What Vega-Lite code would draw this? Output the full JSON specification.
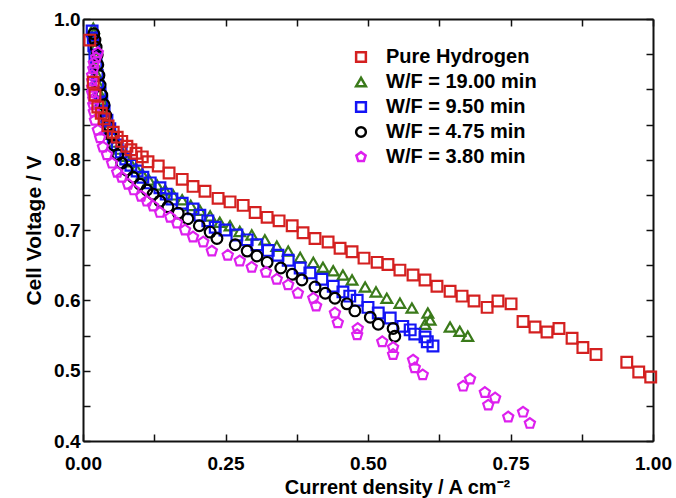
{
  "$schema": "https://vega.github.io/schema/vega-lite/v6.json",
  "width": 570,
  "height": 422,
  "autosize": {"type": "none"},
  "padding": {"left": 83, "top": 19, "right": 23, "bottom": 57},
  "background": "white",
  "config": {
    "view": {"stroke": null},
    "axis": {
      "grid": false,
      "domainColor": "#111111",
      "domainWidth": 2,
      "tickColor": "#111111",
      "tickWidth": 1.5,
      "tickSize": -7,
      "labelFont": "Liberation Sans",
      "labelFontWeight": "bold",
      "labelFontSize": 19,
      "labelColor": "#000000",
      "titleFont": "Liberation Sans",
      "titleFontWeight": "bold",
      "titleFontSize": 20,
      "titleColor": "#000000"
    }
  },
  "datasets": {
    "pts": [
      {"s": "W/F = 19.00 min", "j": 0.018, "v": 0.987},
      {"s": "W/F = 19.00 min", "j": 0.019, "v": 0.980},
      {"s": "W/F = 19.00 min", "j": 0.021, "v": 0.970},
      {"s": "W/F = 19.00 min", "j": 0.021, "v": 0.959},
      {"s": "W/F = 19.00 min", "j": 0.023, "v": 0.946},
      {"s": "W/F = 19.00 min", "j": 0.023, "v": 0.933},
      {"s": "W/F = 19.00 min", "j": 0.025, "v": 0.920},
      {"s": "W/F = 19.00 min", "j": 0.026, "v": 0.908},
      {"s": "W/F = 19.00 min", "j": 0.028, "v": 0.896},
      {"s": "W/F = 19.00 min", "j": 0.032, "v": 0.885},
      {"s": "W/F = 19.00 min", "j": 0.035, "v": 0.873},
      {"s": "W/F = 19.00 min", "j": 0.040, "v": 0.861},
      {"s": "W/F = 19.00 min", "j": 0.046, "v": 0.848},
      {"s": "W/F = 19.00 min", "j": 0.051, "v": 0.836},
      {"s": "W/F = 19.00 min", "j": 0.058, "v": 0.825},
      {"s": "W/F = 19.00 min", "j": 0.065, "v": 0.815},
      {"s": "W/F = 19.00 min", "j": 0.074, "v": 0.805},
      {"s": "W/F = 19.00 min", "j": 0.082, "v": 0.797},
      {"s": "W/F = 19.00 min", "j": 0.093, "v": 0.788},
      {"s": "W/F = 19.00 min", "j": 0.104, "v": 0.780},
      {"s": "W/F = 19.00 min", "j": 0.116, "v": 0.771},
      {"s": "W/F = 19.00 min", "j": 0.130, "v": 0.764},
      {"s": "W/F = 19.00 min", "j": 0.144, "v": 0.757},
      {"s": "W/F = 19.00 min", "j": 0.158, "v": 0.750},
      {"s": "W/F = 19.00 min", "j": 0.174, "v": 0.743},
      {"s": "W/F = 19.00 min", "j": 0.189, "v": 0.735},
      {"s": "W/F = 19.00 min", "j": 0.205, "v": 0.728},
      {"s": "W/F = 19.00 min", "j": 0.223, "v": 0.720},
      {"s": "W/F = 19.00 min", "j": 0.240, "v": 0.711},
      {"s": "W/F = 19.00 min", "j": 0.258, "v": 0.706},
      {"s": "W/F = 19.00 min", "j": 0.275, "v": 0.698},
      {"s": "W/F = 19.00 min", "j": 0.296, "v": 0.693},
      {"s": "W/F = 19.00 min", "j": 0.319, "v": 0.686},
      {"s": "W/F = 19.00 min", "j": 0.340, "v": 0.677},
      {"s": "W/F = 19.00 min", "j": 0.360, "v": 0.670},
      {"s": "W/F = 19.00 min", "j": 0.381, "v": 0.661},
      {"s": "W/F = 19.00 min", "j": 0.404, "v": 0.654},
      {"s": "W/F = 19.00 min", "j": 0.421, "v": 0.647},
      {"s": "W/F = 19.00 min", "j": 0.439, "v": 0.642},
      {"s": "W/F = 19.00 min", "j": 0.456, "v": 0.636},
      {"s": "W/F = 19.00 min", "j": 0.472, "v": 0.629},
      {"s": "W/F = 19.00 min", "j": 0.495, "v": 0.619},
      {"s": "W/F = 19.00 min", "j": 0.514, "v": 0.612},
      {"s": "W/F = 19.00 min", "j": 0.533, "v": 0.603},
      {"s": "W/F = 19.00 min", "j": 0.556, "v": 0.596},
      {"s": "W/F = 19.00 min", "j": 0.577, "v": 0.589},
      {"s": "W/F = 19.00 min", "j": 0.605, "v": 0.582},
      {"s": "W/F = 19.00 min", "j": 0.609, "v": 0.572},
      {"s": "W/F = 19.00 min", "j": 0.600, "v": 0.566},
      {"s": "W/F = 19.00 min", "j": 0.644, "v": 0.562},
      {"s": "W/F = 19.00 min", "j": 0.661, "v": 0.556},
      {"s": "W/F = 19.00 min", "j": 0.675, "v": 0.549},

      {"s": "W/F = 9.50 min", "j": 0.016, "v": 0.983},
      {"s": "W/F = 9.50 min", "j": 0.018, "v": 0.973},
      {"s": "W/F = 9.50 min", "j": 0.019, "v": 0.962},
      {"s": "W/F = 9.50 min", "j": 0.021, "v": 0.949},
      {"s": "W/F = 9.50 min", "j": 0.023, "v": 0.935},
      {"s": "W/F = 9.50 min", "j": 0.025, "v": 0.920},
      {"s": "W/F = 9.50 min", "j": 0.026, "v": 0.908},
      {"s": "W/F = 9.50 min", "j": 0.030, "v": 0.895},
      {"s": "W/F = 9.50 min", "j": 0.033, "v": 0.882},
      {"s": "W/F = 9.50 min", "j": 0.037, "v": 0.869},
      {"s": "W/F = 9.50 min", "j": 0.042, "v": 0.856},
      {"s": "W/F = 9.50 min", "j": 0.047, "v": 0.844},
      {"s": "W/F = 9.50 min", "j": 0.053, "v": 0.832},
      {"s": "W/F = 9.50 min", "j": 0.060, "v": 0.821},
      {"s": "W/F = 9.50 min", "j": 0.067, "v": 0.811},
      {"s": "W/F = 9.50 min", "j": 0.075, "v": 0.801},
      {"s": "W/F = 9.50 min", "j": 0.084, "v": 0.792},
      {"s": "W/F = 9.50 min", "j": 0.095, "v": 0.784},
      {"s": "W/F = 9.50 min", "j": 0.105, "v": 0.775},
      {"s": "W/F = 9.50 min", "j": 0.118, "v": 0.767},
      {"s": "W/F = 9.50 min", "j": 0.135, "v": 0.760},
      {"s": "W/F = 9.50 min", "j": 0.146, "v": 0.751},
      {"s": "W/F = 9.50 min", "j": 0.156, "v": 0.744},
      {"s": "W/F = 9.50 min", "j": 0.174, "v": 0.738},
      {"s": "W/F = 9.50 min", "j": 0.193, "v": 0.730},
      {"s": "W/F = 9.50 min", "j": 0.205, "v": 0.721},
      {"s": "W/F = 9.50 min", "j": 0.219, "v": 0.713},
      {"s": "W/F = 9.50 min", "j": 0.232, "v": 0.704},
      {"s": "W/F = 9.50 min", "j": 0.249, "v": 0.700},
      {"s": "W/F = 9.50 min", "j": 0.270, "v": 0.693},
      {"s": "W/F = 9.50 min", "j": 0.288, "v": 0.686},
      {"s": "W/F = 9.50 min", "j": 0.305, "v": 0.679},
      {"s": "W/F = 9.50 min", "j": 0.325, "v": 0.671},
      {"s": "W/F = 9.50 min", "j": 0.342, "v": 0.664},
      {"s": "W/F = 9.50 min", "j": 0.360, "v": 0.657},
      {"s": "W/F = 9.50 min", "j": 0.381, "v": 0.646},
      {"s": "W/F = 9.50 min", "j": 0.398, "v": 0.639},
      {"s": "W/F = 9.50 min", "j": 0.419, "v": 0.630},
      {"s": "W/F = 9.50 min", "j": 0.439, "v": 0.620},
      {"s": "W/F = 9.50 min", "j": 0.456, "v": 0.612},
      {"s": "W/F = 9.50 min", "j": 0.468, "v": 0.606},
      {"s": "W/F = 9.50 min", "j": 0.481, "v": 0.600},
      {"s": "W/F = 9.50 min", "j": 0.500, "v": 0.590},
      {"s": "W/F = 9.50 min", "j": 0.518, "v": 0.582},
      {"s": "W/F = 9.50 min", "j": 0.539, "v": 0.575},
      {"s": "W/F = 9.50 min", "j": 0.561, "v": 0.563},
      {"s": "W/F = 9.50 min", "j": 0.574, "v": 0.558},
      {"s": "W/F = 9.50 min", "j": 0.582, "v": 0.552},
      {"s": "W/F = 9.50 min", "j": 0.600, "v": 0.548},
      {"s": "W/F = 9.50 min", "j": 0.604, "v": 0.541},
      {"s": "W/F = 9.50 min", "j": 0.614, "v": 0.535},

      {"s": "W/F = 4.75 min", "j": 0.019, "v": 0.979},
      {"s": "W/F = 4.75 min", "j": 0.021, "v": 0.970},
      {"s": "W/F = 4.75 min", "j": 0.023, "v": 0.960},
      {"s": "W/F = 4.75 min", "j": 0.025, "v": 0.949},
      {"s": "W/F = 4.75 min", "j": 0.026, "v": 0.935},
      {"s": "W/F = 4.75 min", "j": 0.028, "v": 0.920},
      {"s": "W/F = 4.75 min", "j": 0.030, "v": 0.906},
      {"s": "W/F = 4.75 min", "j": 0.033, "v": 0.892},
      {"s": "W/F = 4.75 min", "j": 0.037, "v": 0.878},
      {"s": "W/F = 4.75 min", "j": 0.040, "v": 0.863},
      {"s": "W/F = 4.75 min", "j": 0.044, "v": 0.849},
      {"s": "W/F = 4.75 min", "j": 0.049, "v": 0.835},
      {"s": "W/F = 4.75 min", "j": 0.054, "v": 0.821},
      {"s": "W/F = 4.75 min", "j": 0.061, "v": 0.807},
      {"s": "W/F = 4.75 min", "j": 0.068, "v": 0.795},
      {"s": "W/F = 4.75 min", "j": 0.077, "v": 0.785},
      {"s": "W/F = 4.75 min", "j": 0.088, "v": 0.775},
      {"s": "W/F = 4.75 min", "j": 0.100, "v": 0.765},
      {"s": "W/F = 4.75 min", "j": 0.112, "v": 0.757},
      {"s": "W/F = 4.75 min", "j": 0.123, "v": 0.751},
      {"s": "W/F = 4.75 min", "j": 0.135, "v": 0.741},
      {"s": "W/F = 4.75 min", "j": 0.149, "v": 0.733},
      {"s": "W/F = 4.75 min", "j": 0.167, "v": 0.724},
      {"s": "W/F = 4.75 min", "j": 0.184, "v": 0.716},
      {"s": "W/F = 4.75 min", "j": 0.204, "v": 0.706},
      {"s": "W/F = 4.75 min", "j": 0.223, "v": 0.697},
      {"s": "W/F = 4.75 min", "j": 0.235, "v": 0.688},
      {"s": "W/F = 4.75 min", "j": 0.267, "v": 0.679},
      {"s": "W/F = 4.75 min", "j": 0.288, "v": 0.670},
      {"s": "W/F = 4.75 min", "j": 0.305, "v": 0.663},
      {"s": "W/F = 4.75 min", "j": 0.323, "v": 0.654},
      {"s": "W/F = 4.75 min", "j": 0.347, "v": 0.646},
      {"s": "W/F = 4.75 min", "j": 0.367, "v": 0.637},
      {"s": "W/F = 4.75 min", "j": 0.384, "v": 0.629},
      {"s": "W/F = 4.75 min", "j": 0.407, "v": 0.619},
      {"s": "W/F = 4.75 min", "j": 0.425, "v": 0.610},
      {"s": "W/F = 4.75 min", "j": 0.442, "v": 0.603},
      {"s": "W/F = 4.75 min", "j": 0.463, "v": 0.595},
      {"s": "W/F = 4.75 min", "j": 0.477, "v": 0.585},
      {"s": "W/F = 4.75 min", "j": 0.504, "v": 0.576},
      {"s": "W/F = 4.75 min", "j": 0.518, "v": 0.566},
      {"s": "W/F = 4.75 min", "j": 0.544, "v": 0.560},
      {"s": "W/F = 4.75 min", "j": 0.547, "v": 0.549},

      {"s": "W/F = 3.80 min", "j": 0.026, "v": 0.952},
      {"s": "W/F = 3.80 min", "j": 0.023, "v": 0.945},
      {"s": "W/F = 3.80 min", "j": 0.019, "v": 0.937},
      {"s": "W/F = 3.80 min", "j": 0.018, "v": 0.929},
      {"s": "W/F = 3.80 min", "j": 0.016, "v": 0.920},
      {"s": "W/F = 3.80 min", "j": 0.016, "v": 0.912},
      {"s": "W/F = 3.80 min", "j": 0.016, "v": 0.903},
      {"s": "W/F = 3.80 min", "j": 0.016, "v": 0.895},
      {"s": "W/F = 3.80 min", "j": 0.018, "v": 0.886},
      {"s": "W/F = 3.80 min", "j": 0.018, "v": 0.878},
      {"s": "W/F = 3.80 min", "j": 0.019, "v": 0.868},
      {"s": "W/F = 3.80 min", "j": 0.021, "v": 0.856},
      {"s": "W/F = 3.80 min", "j": 0.026, "v": 0.842},
      {"s": "W/F = 3.80 min", "j": 0.030, "v": 0.831},
      {"s": "W/F = 3.80 min", "j": 0.035, "v": 0.818},
      {"s": "W/F = 3.80 min", "j": 0.042, "v": 0.807},
      {"s": "W/F = 3.80 min", "j": 0.051, "v": 0.795},
      {"s": "W/F = 3.80 min", "j": 0.060, "v": 0.782},
      {"s": "W/F = 3.80 min", "j": 0.068, "v": 0.775},
      {"s": "W/F = 3.80 min", "j": 0.079, "v": 0.765},
      {"s": "W/F = 3.80 min", "j": 0.089, "v": 0.757},
      {"s": "W/F = 3.80 min", "j": 0.102, "v": 0.748},
      {"s": "W/F = 3.80 min", "j": 0.112, "v": 0.741},
      {"s": "W/F = 3.80 min", "j": 0.123, "v": 0.734},
      {"s": "W/F = 3.80 min", "j": 0.135, "v": 0.725},
      {"s": "W/F = 3.80 min", "j": 0.153, "v": 0.718},
      {"s": "W/F = 3.80 min", "j": 0.165, "v": 0.710},
      {"s": "W/F = 3.80 min", "j": 0.179, "v": 0.700},
      {"s": "W/F = 3.80 min", "j": 0.193, "v": 0.690},
      {"s": "W/F = 3.80 min", "j": 0.211, "v": 0.683},
      {"s": "W/F = 3.80 min", "j": 0.226, "v": 0.670},
      {"s": "W/F = 3.80 min", "j": 0.254, "v": 0.664},
      {"s": "W/F = 3.80 min", "j": 0.275, "v": 0.656},
      {"s": "W/F = 3.80 min", "j": 0.296, "v": 0.647},
      {"s": "W/F = 3.80 min", "j": 0.321, "v": 0.640},
      {"s": "W/F = 3.80 min", "j": 0.340, "v": 0.630},
      {"s": "W/F = 3.80 min", "j": 0.360, "v": 0.622},
      {"s": "W/F = 3.80 min", "j": 0.377, "v": 0.610},
      {"s": "W/F = 3.80 min", "j": 0.404, "v": 0.603},
      {"s": "W/F = 3.80 min", "j": 0.409, "v": 0.592},
      {"s": "W/F = 3.80 min", "j": 0.442, "v": 0.582},
      {"s": "W/F = 3.80 min", "j": 0.447, "v": 0.568},
      {"s": "W/F = 3.80 min", "j": 0.482, "v": 0.560},
      {"s": "W/F = 3.80 min", "j": 0.481, "v": 0.551},
      {"s": "W/F = 3.80 min", "j": 0.525, "v": 0.541},
      {"s": "W/F = 3.80 min", "j": 0.544, "v": 0.533},
      {"s": "W/F = 3.80 min", "j": 0.544, "v": 0.523},
      {"s": "W/F = 3.80 min", "j": 0.579, "v": 0.515},
      {"s": "W/F = 3.80 min", "j": 0.582, "v": 0.504},
      {"s": "W/F = 3.80 min", "j": 0.596, "v": 0.494},
      {"s": "W/F = 3.80 min", "j": 0.667, "v": 0.478},
      {"s": "W/F = 3.80 min", "j": 0.679, "v": 0.488},
      {"s": "W/F = 3.80 min", "j": 0.705, "v": 0.469},
      {"s": "W/F = 3.80 min", "j": 0.723, "v": 0.461},
      {"s": "W/F = 3.80 min", "j": 0.711, "v": 0.451},
      {"s": "W/F = 3.80 min", "j": 0.746, "v": 0.434},
      {"s": "W/F = 3.80 min", "j": 0.772, "v": 0.441},
      {"s": "W/F = 3.80 min", "j": 0.784, "v": 0.425},

      {"s": "\u00a0Pure Hydrogen", "j": 0.012, "v": 0.970},
      {"s": "\u00a0Pure Hydrogen", "j": 0.018, "v": 0.910},
      {"s": "\u00a0Pure Hydrogen", "j": 0.021, "v": 0.892},
      {"s": "\u00a0Pure Hydrogen", "j": 0.026, "v": 0.875},
      {"s": "\u00a0Pure Hydrogen", "j": 0.032, "v": 0.866},
      {"s": "\u00a0Pure Hydrogen", "j": 0.037, "v": 0.858},
      {"s": "\u00a0Pure Hydrogen", "j": 0.044, "v": 0.848},
      {"s": "\u00a0Pure Hydrogen", "j": 0.053, "v": 0.839},
      {"s": "\u00a0Pure Hydrogen", "j": 0.060, "v": 0.832},
      {"s": "\u00a0Pure Hydrogen", "j": 0.068, "v": 0.826},
      {"s": "\u00a0Pure Hydrogen", "j": 0.077, "v": 0.819},
      {"s": "\u00a0Pure Hydrogen", "j": 0.084, "v": 0.814},
      {"s": "\u00a0Pure Hydrogen", "j": 0.093, "v": 0.809},
      {"s": "\u00a0Pure Hydrogen", "j": 0.104, "v": 0.804},
      {"s": "\u00a0Pure Hydrogen", "j": 0.114, "v": 0.797},
      {"s": "\u00a0Pure Hydrogen", "j": 0.132, "v": 0.791},
      {"s": "\u00a0Pure Hydrogen", "j": 0.151, "v": 0.781},
      {"s": "\u00a0Pure Hydrogen", "j": 0.174, "v": 0.772},
      {"s": "\u00a0Pure Hydrogen", "j": 0.193, "v": 0.762},
      {"s": "\u00a0Pure Hydrogen", "j": 0.214, "v": 0.755},
      {"s": "\u00a0Pure Hydrogen", "j": 0.237, "v": 0.745},
      {"s": "\u00a0Pure Hydrogen", "j": 0.258, "v": 0.740},
      {"s": "\u00a0Pure Hydrogen", "j": 0.281, "v": 0.735},
      {"s": "\u00a0Pure Hydrogen", "j": 0.302, "v": 0.725},
      {"s": "\u00a0Pure Hydrogen", "j": 0.323, "v": 0.718},
      {"s": "\u00a0Pure Hydrogen", "j": 0.344, "v": 0.713},
      {"s": "\u00a0Pure Hydrogen", "j": 0.367, "v": 0.706},
      {"s": "\u00a0Pure Hydrogen", "j": 0.386, "v": 0.696},
      {"s": "\u00a0Pure Hydrogen", "j": 0.407, "v": 0.688},
      {"s": "\u00a0Pure Hydrogen", "j": 0.430, "v": 0.683},
      {"s": "\u00a0Pure Hydrogen", "j": 0.451, "v": 0.674},
      {"s": "\u00a0Pure Hydrogen", "j": 0.472, "v": 0.669},
      {"s": "\u00a0Pure Hydrogen", "j": 0.493, "v": 0.660},
      {"s": "\u00a0Pure Hydrogen", "j": 0.516, "v": 0.654},
      {"s": "\u00a0Pure Hydrogen", "j": 0.535, "v": 0.651},
      {"s": "\u00a0Pure Hydrogen", "j": 0.556, "v": 0.643},
      {"s": "\u00a0Pure Hydrogen", "j": 0.579, "v": 0.636},
      {"s": "\u00a0Pure Hydrogen", "j": 0.600, "v": 0.629},
      {"s": "\u00a0Pure Hydrogen", "j": 0.621, "v": 0.620},
      {"s": "\u00a0Pure Hydrogen", "j": 0.644, "v": 0.613},
      {"s": "\u00a0Pure Hydrogen", "j": 0.665, "v": 0.606},
      {"s": "\u00a0Pure Hydrogen", "j": 0.686, "v": 0.599},
      {"s": "\u00a0Pure Hydrogen", "j": 0.709, "v": 0.590},
      {"s": "\u00a0Pure Hydrogen", "j": 0.728, "v": 0.599},
      {"s": "\u00a0Pure Hydrogen", "j": 0.751, "v": 0.595},
      {"s": "\u00a0Pure Hydrogen", "j": 0.772, "v": 0.570},
      {"s": "\u00a0Pure Hydrogen", "j": 0.793, "v": 0.562},
      {"s": "\u00a0Pure Hydrogen", "j": 0.814, "v": 0.555},
      {"s": "\u00a0Pure Hydrogen", "j": 0.835, "v": 0.560},
      {"s": "\u00a0Pure Hydrogen", "j": 0.858, "v": 0.546},
      {"s": "\u00a0Pure Hydrogen", "j": 0.877, "v": 0.533},
      {"s": "\u00a0Pure Hydrogen", "j": 0.900, "v": 0.523},
      {"s": "\u00a0Pure Hydrogen", "j": 0.954, "v": 0.512},
      {"s": "\u00a0Pure Hydrogen", "j": 0.975, "v": 0.498},
      {"s": "\u00a0Pure Hydrogen", "j": 0.996, "v": 0.491}
    ]
  },
  "data": {"name": "pts"},
  "layer": [
    {
      "mark": {"type": "point", "filled": false, "strokeWidth": 2.2, "size": 115, "opacity": 1},
      "encoding": {
        "x": {
          "field": "j", "type": "quantitative",
          "scale": {"domain": [0, 1], "nice": false, "zero": false},
          "axis": {
            "orient": "bottom",
            "values": [0, 0.125, 0.25, 0.375, 0.5, 0.625, 0.75, 0.875, 1],
            "labelExpr": "abs(datum.value*4 - round(datum.value*4)) < 0.001 ? format(datum.value, '.2f') : ''",
            "labelPadding": 20,
            "labelFlush": false,
            "title": "Current density / A cm⁻²",
            "titlePadding": 4,
            "titleX": 314
          }
        },
        "y": {
          "field": "v", "type": "quantitative",
          "scale": {"domain": [0.4, 1.0], "nice": false, "zero": false},
          "axis": {
            "orient": "left",
            "values": [0.4, 0.45, 0.5, 0.55, 0.6, 0.65, 0.7, 0.75, 0.8, 0.85, 0.9, 0.95, 1.0],
            "labelExpr": "abs(datum.value*10 - round(datum.value*10)) < 0.001 ? format(datum.value, '.1f') : ''",
            "labelPadding": 10,
            "labelFlush": false,
            "title": "Cell Voltage / V",
            "titleFontSize": 21,
            "titlePadding": 9
          }
        },
        "color": {
          "field": "s", "type": "nominal",
          "scale": {
            "domain": ["\u00a0Pure Hydrogen", "W/F = 19.00 min", "W/F = 9.50 min", "W/F = 4.75 min", "W/F = 3.80 min"],
            "range": ["#d42020", "#3a7a1a", "#1414f5", "#000000", "#dd20ee"]
          },
          "legend": {
            "title": null, "orient": "none", "legendX": 268, "legendY": 28,
            "labelFont": "Liberation Sans", "labelFontWeight": "bold", "labelFontSize": 20, "labelColor": "#000000",
            "labelOffset": 15, "symbolSize": 95, "symbolStrokeWidth": 2.5, "rowPadding": 5, "padding": 0
          }
        },
        "shape": {
          "field": "s", "type": "nominal",
          "scale": {
            "domain": ["\u00a0Pure Hydrogen", "W/F = 19.00 min", "W/F = 9.50 min", "W/F = 4.75 min", "W/F = 3.80 min"],
            "range": ["square", "triangle-up", "square", "circle", "M0,-1L0.951,-0.309L0.588,0.809L-0.588,0.809L-0.951,-0.309Z"]
          },
          "legend": {
            "title": null, "orient": "none", "legendX": 268, "legendY": 28,
            "labelFont": "Liberation Sans", "labelFontWeight": "bold", "labelFontSize": 20, "labelColor": "#000000",
            "labelOffset": 15, "symbolSize": 95, "symbolStrokeWidth": 2.5, "rowPadding": 5, "padding": 0
          }
        }
      }
    },
    {
      "mark": {"type": "point", "opacity": 0},
      "encoding": {
        "x": {
          "field": "j", "type": "quantitative",
          "axis": {"orient": "top", "values": [0, 0.125, 0.25, 0.375, 0.5, 0.625, 0.75, 0.875, 1], "labels": false, "title": null}
        },
        "y": {
          "field": "v", "type": "quantitative",
          "axis": {"orient": "right", "values": [0.4, 0.45, 0.5, 0.55, 0.6, 0.65, 0.7, 0.75, 0.8, 0.85, 0.9, 0.95, 1.0], "labels": false, "title": null}
        }
      }
    }
  ],
  "resolve": {"axis": {"x": "independent", "y": "independent"}}
}
